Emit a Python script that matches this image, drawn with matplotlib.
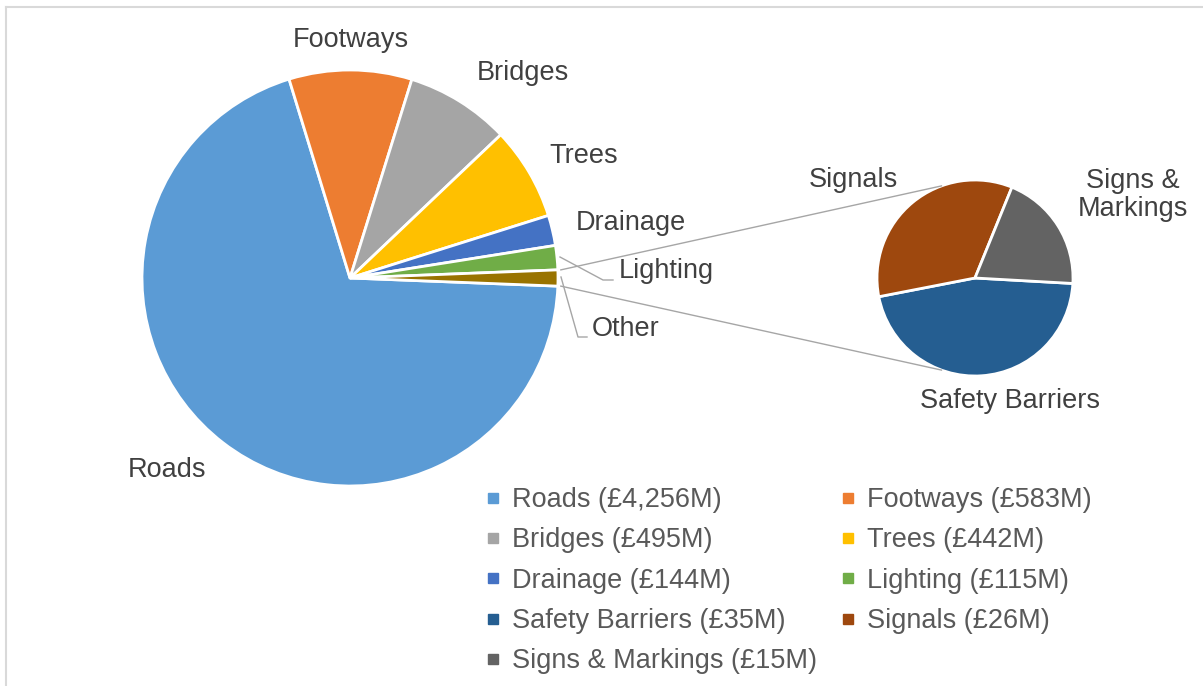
import numpy as np
import matplotlib.pyplot as plt
from matplotlib.lines import Line2D

plt.rcParams['font.family'] = ['Liberation Sans', 'DejaVu Sans']

# main pie (Other = sum of the small ones)
main_names = ['Roads', 'Footways', 'Bridges', 'Trees', 'Drainage', 'Lighting', 'Other']
main_values = [4256, 583, 495, 442, 144, 115]
main_colors = ['#5B9BD5', '#ED7D31', '#A5A5A5', '#FFC000', '#4472C4', '#70AD47', '#997300']

sub_names = ['Safety Barriers', 'Signals', 'Signs & Markings']
sub_values = [35, 26, 15]
sub_colors = ['#255E91', '#9E480E', '#636363']

W, H = 1203, 686
LABEL = '#404040'
LEG = '#595959'
FS = 19.5


def py(y):
    # pixel row -> data y
    return H - y


fig = plt.figure(figsize=(W / 100, H / 100), dpi=100)
ax = fig.add_axes([0, 0, 1, 1])

all_main = main_values + [sum(sub_values)]
total = sum(all_main)
half_other = 360 * all_main[-1] / total / 2

c1, r1 = (350, py(278)), 208
c2, r2 = (975, py(278)), 98

ax.pie(all_main, colors=main_colors, center=c1, radius=r1, startangle=-half_other,
       counterclock=False, wedgeprops=dict(edgecolor='white', linewidth=2))
ax.pie(sub_values, colors=sub_colors, center=c2, radius=r2, startangle=-3.2,
       counterclock=False, wedgeprops=dict(edgecolor='white', linewidth=2))

# connector lines between pies
for sgn in (1, -1):
    a1 = np.deg2rad(sgn * half_other)
    a2 = np.deg2rad(sgn * 110)
    ax.plot([c1[0] + r1 * np.cos(a1) + 3, c2[0] + r2 * np.cos(a2)],
            [c1[1] + r1 * np.sin(a1), c2[1] + r2 * np.sin(a2)],
            color='#A6A6A6', lw=1)

# leader lines for Lighting and Other
ax.plot([560, 603, 613], [py(257), py(280), py(280)], color='#A6A6A6', lw=1)
ax.plot([561, 578, 587], [py(277), py(337), py(337)], color='#A6A6A6', lw=1)

labels = {
    'Footways': (351, 40), 'Bridges': (523, 73), 'Trees': (584, 156),
    'Drainage': (631, 223), 'Lighting': (666, 271), 'Other': (626, 329),
    'Roads': (167, 470), 'Signals': (853, 180), 'Signs &\nMarkings': (1133, 195),
    'Safety Barriers': (1010, 401),
}
for txt, (x, y) in labels.items():
    ax.text(x, py(y), txt, ha='center', va='center', fontsize=FS, color=LABEL,
            linespacing=1.12)

# legend, row-major order like the original
leg_names = main_names[:-1] + sub_names
leg_values = main_values + sub_values
leg_colors = main_colors[:-1] + sub_colors
order = [0, 2, 4, 6, 8, 1, 3, 5, 7]
handles = [Line2D([], [], ls='none', marker='s', markersize=7.5, color=leg_colors[i],
                  label=f'{leg_names[i]} (£{leg_values[i]:,}M)') for i in order]
leg = fig.legend(handles=handles, ncol=2, loc='upper left',
                 bbox_to_anchor=(486 / W, 1 - 487 / H), frameon=False, fontsize=FS,
                 borderpad=0, handlelength=0.5, handletextpad=0.45,
                 columnspacing=0.9, labelspacing=0.53, borderaxespad=0)
for t in leg.get_texts():
    t.set_color(LEG)

# chart border (top and left visible)
ax.plot([6, W], [py(7), py(7)], color='#D9D9D9', lw=1.5)
ax.plot([6, 6], [py(7), 0], color='#D9D9D9', lw=1.5)

ax.set_xlim(0, W)
ax.set_ylim(0, H)
ax.set_aspect('auto')
ax.axis('off')

fig.savefig('out.png', dpi=100, facecolor='white')
